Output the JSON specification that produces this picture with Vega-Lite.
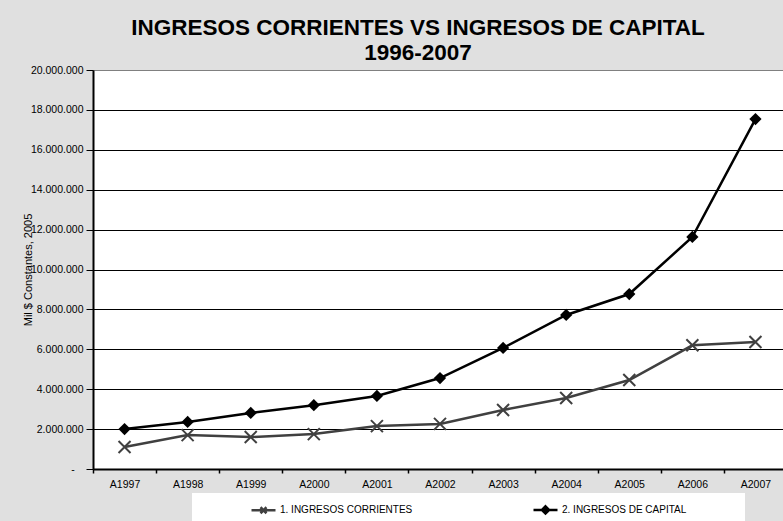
{
  "$schema": "https://vega.github.io/schema/vega-lite/v6.json",
  "width": 690,
  "height": 399,
  "autosize": {"type": "none"},
  "padding": {"left": 93, "top": 70, "right": 0, "bottom": 52},
  "background": "#e0e0e0",
  "config": {
    "view": {"fill": "white", "stroke": "#808080", "strokeWidth": 1},
    "font": "Liberation Sans"
  },
  "title": {
    "text": ["INGRESOS CORRIENTES VS INGRESOS DE CAPITAL", "1996-2007"],
    "font": "Liberation Sans",
    "fontSize": 22.5,
    "fontWeight": "bold",
    "color": "black",
    "anchor": "middle",
    "frame": "group",
    "dx": -20,
    "offset": 1,
    "lineHeight": 25
  },
  "data": {
    "values": [
      {"year": "A1997", "series": "1. INGRESOS CORRIENTES", "value": 1100000},
      {"year": "A1998", "series": "1. INGRESOS CORRIENTES", "value": 1700000},
      {"year": "A1999", "series": "1. INGRESOS CORRIENTES", "value": 1600000},
      {"year": "A2000", "series": "1. INGRESOS CORRIENTES", "value": 1750000},
      {"year": "A2001", "series": "1. INGRESOS CORRIENTES", "value": 2150000},
      {"year": "A2002", "series": "1. INGRESOS CORRIENTES", "value": 2260000},
      {"year": "A2003", "series": "1. INGRESOS CORRIENTES", "value": 2960000},
      {"year": "A2004", "series": "1. INGRESOS CORRIENTES", "value": 3560000},
      {"year": "A2005", "series": "1. INGRESOS CORRIENTES", "value": 4460000},
      {"year": "A2006", "series": "1. INGRESOS CORRIENTES", "value": 6200000},
      {"year": "A2007", "series": "1. INGRESOS CORRIENTES", "value": 6370000},
      {"year": "A1997", "series": "2. INGRESOS DE CAPITAL", "value": 2000000},
      {"year": "A1998", "series": "2. INGRESOS DE CAPITAL", "value": 2360000},
      {"year": "A1999", "series": "2. INGRESOS DE CAPITAL", "value": 2810000},
      {"year": "A2000", "series": "2. INGRESOS DE CAPITAL", "value": 3200000},
      {"year": "A2001", "series": "2. INGRESOS DE CAPITAL", "value": 3660000},
      {"year": "A2002", "series": "2. INGRESOS DE CAPITAL", "value": 4560000},
      {"year": "A2003", "series": "2. INGRESOS DE CAPITAL", "value": 6070000},
      {"year": "A2004", "series": "2. INGRESOS DE CAPITAL", "value": 7720000},
      {"year": "A2005", "series": "2. INGRESOS DE CAPITAL", "value": 8770000},
      {"year": "A2006", "series": "2. INGRESOS DE CAPITAL", "value": 11630000},
      {"year": "A2007", "series": "2. INGRESOS DE CAPITAL", "value": 17540000}
    ]
  },
  "encoding": {
    "x": {
      "field": "year",
      "type": "nominal",
      "sort": null,
      "scale": {"type": "band", "paddingInner": 0, "paddingOuter": 0, "range": [0, 694]},
      "axis": {
        "title": null,
        "labelAngle": 0,
        "tickBand": "extent",
        "domainColor": "black",
        "domainWidth": 2,
        "tickColor": "black",
        "tickWidth": 1.5,
        "tickSize": 4,
        "labelFontSize": 10.5,
        "labelColor": "black",
        "labelPadding": 6,
        "grid": false
      }
    },
    "y": {
      "field": "value",
      "type": "quantitative",
      "scale": {"domain": [0, 20000000], "nice": false},
      "axis": {
        "title": "Mil $ Constantes, 2005",
        "values": [0, 2000000, 4000000, 6000000, 8000000, 10000000, 12000000, 14000000, 16000000, 18000000, 20000000],
        "labelExpr": "datum.value == 0 ? '-\u00a0\u00a0\u00a0\u200b' : replace(format(datum.value, ','), regexp(',', 'g'), '.')",
        "grid": true,
        "gridColor": {"condition": {"test": "datum.value == 20000000", "value": "#808080"}, "value": "black"},
        "gridWidth": 1,
        "domainColor": "black",
        "domainWidth": 2,
        "tickColor": "black",
        "tickSize": 7,
        "tickWidth": 1,
        "labelFontSize": 10.5,
        "labelColor": "black",
        "labelPadding": 3,
        "titleFontSize": 11,
        "titleFontWeight": "normal",
        "titleColor": "black",
        "titlePadding": -3
      }
    }
  },
  "layer": [
    {
      "mark": {"type": "line", "strokeWidth": 2.5},
      "encoding": {
        "color": {
          "field": "series",
          "type": "nominal",
          "scale": {"domain": ["1. INGRESOS CORRIENTES", "2. INGRESOS DE CAPITAL"], "range": ["#404040", "#000000"]},
          "legend": {
            "orient": "none",
            "legendX": 99,
            "legendY": 423,
            "direction": "horizontal",
            "columns": 2,
            "columnPadding": 64,
            "title": null,
            "symbolOffset": 55,
            "labelFontSize": 10,
            "labelColor": "black",
            "labelFont": "Liberation Sans",
            "labelOffset": 3,
            "labelLimit": 400,
            "labelExpr": "datum.value == '2. INGRESOS DE CAPITAL' ? datum.label + '\u00a0\u00a0\u00a0\u00a0\u00a0\u00a0\u00a0\u00a0\u00a0\u00a0\u00a0\u00a0\u00a0\u00a0\u00a0\u00a0\u00a0\u00a0\u00a0\u00a0\u200b' : datum.label",
            "fillColor": "white",
            "padding": 3,
            "symbolSize": 576,
            "encode": {
              "symbols": {
                "update": {
                  "shape": {"signal": "datum.value == '2. INGRESOS DE CAPITAL' ? 'M-1,0L1,0M0,-0.3L0.3,0L0,0.3L-0.3,0Z' : 'M-1,0L1,0M-0.25,-0.25L0.25,0.25M-0.25,0.25L0.25,-0.25'"},
                  "fill": {"signal": "datum.value == '2. INGRESOS DE CAPITAL' ? 'black' : 'transparent'"},
                  "stroke": {"signal": "datum.value == '2. INGRESOS DE CAPITAL' ? 'black' : '#404040'"},
                  "strokeWidth": {"value": 2.5},
                  "opacity": {"value": 1}
                }
              }
            }
          }
        }
      }
    },
    {
      "transform": [{"filter": "datum.series == '2. INGRESOS DE CAPITAL'"}],
      "mark": {"type": "point", "shape": "diamond", "filled": true, "color": "black", "size": 150, "opacity": 1}
    },
    {
      "transform": [{"filter": "datum.series == '1. INGRESOS CORRIENTES'"}],
      "mark": {"type": "point", "shape": "M-1,-1L1,1M-1,1L1,-1", "filled": false, "stroke": "#404040", "strokeWidth": 2, "size": 144, "opacity": 1}
    }
  ]
}
